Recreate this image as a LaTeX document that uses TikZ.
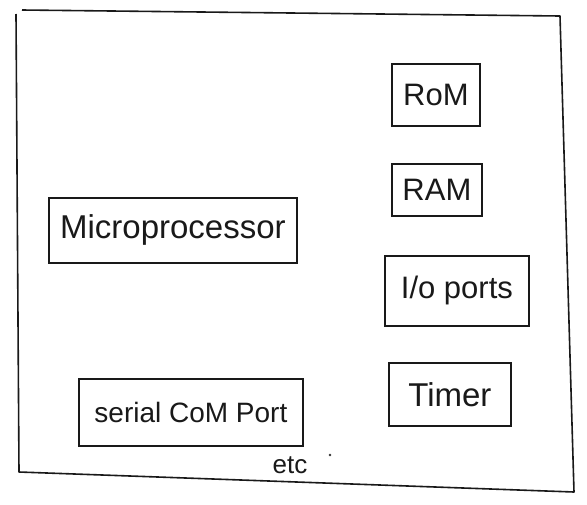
\documentclass[tikz,border=0pt]{standalone}
\usepackage{fontspec}
\setmainfont{Liberation Sans}
\begin{document}
\begin{tikzpicture}[x=1pt,y=-1pt,
  box/.style={draw=black!90, line width=1.8pt, inner sep=0pt, anchor=north west},
  lbl/.style={text=black!90, inner sep=0pt}]
\useasboundingbox (0,0) rectangle (587,504);
\fill[white] (0,0) rectangle (587,504);
% outer frame
\coordinate (tl) at (16,14);
\coordinate (tr) at (560,16);
\coordinate (br) at (574,492);
\coordinate (bl) at (19,472);
\draw[line width=1.6pt, black!90, line join=round] (22,10) -- (tr) -- (br) -- (bl) -- (tl);
% boxes
\node[box, minimum width=88pt, minimum height=62pt] (rom) at (391,63) {};
\node[lbl, font=\fontsize{31}{33}\selectfont] at (rom.center) {RoM};
\node[box, minimum width=90pt, minimum height=52pt] (ram) at (391,163) {};
\node[lbl, font=\fontsize{31}{33}\selectfont] at (ram.center) {RAM};
\node[box, minimum width=144pt, minimum height=70pt] (io) at (384,255) {};
\node[lbl, font=\fontsize{31}{33}\selectfont] at (io.center) {I/o ports};
\node[box, minimum width=122pt, minimum height=63pt] (timer) at (388,362) {};
\node[lbl, font=\fontsize{33}{35}\selectfont] at (timer.center) {Timer};
\node[box, minimum width=248pt, minimum height=65pt] (mp) at (48,197) {};
\node[lbl, font=\fontsize{33}{35}\selectfont] at (mp.center) {Microprocessor};
\node[box, minimum width=224pt, minimum height=67pt] (scp) at (78,378) {};
\node[lbl, font=\fontsize{28}{30}\selectfont] at (scp.center) {serial CoM Port};
\node[lbl, font=\fontsize{26}{28}\selectfont] (etc) at (290,465) {etc};
\fill[black!80] (330,455) circle (1.3pt);
\end{tikzpicture}
\end{document}
